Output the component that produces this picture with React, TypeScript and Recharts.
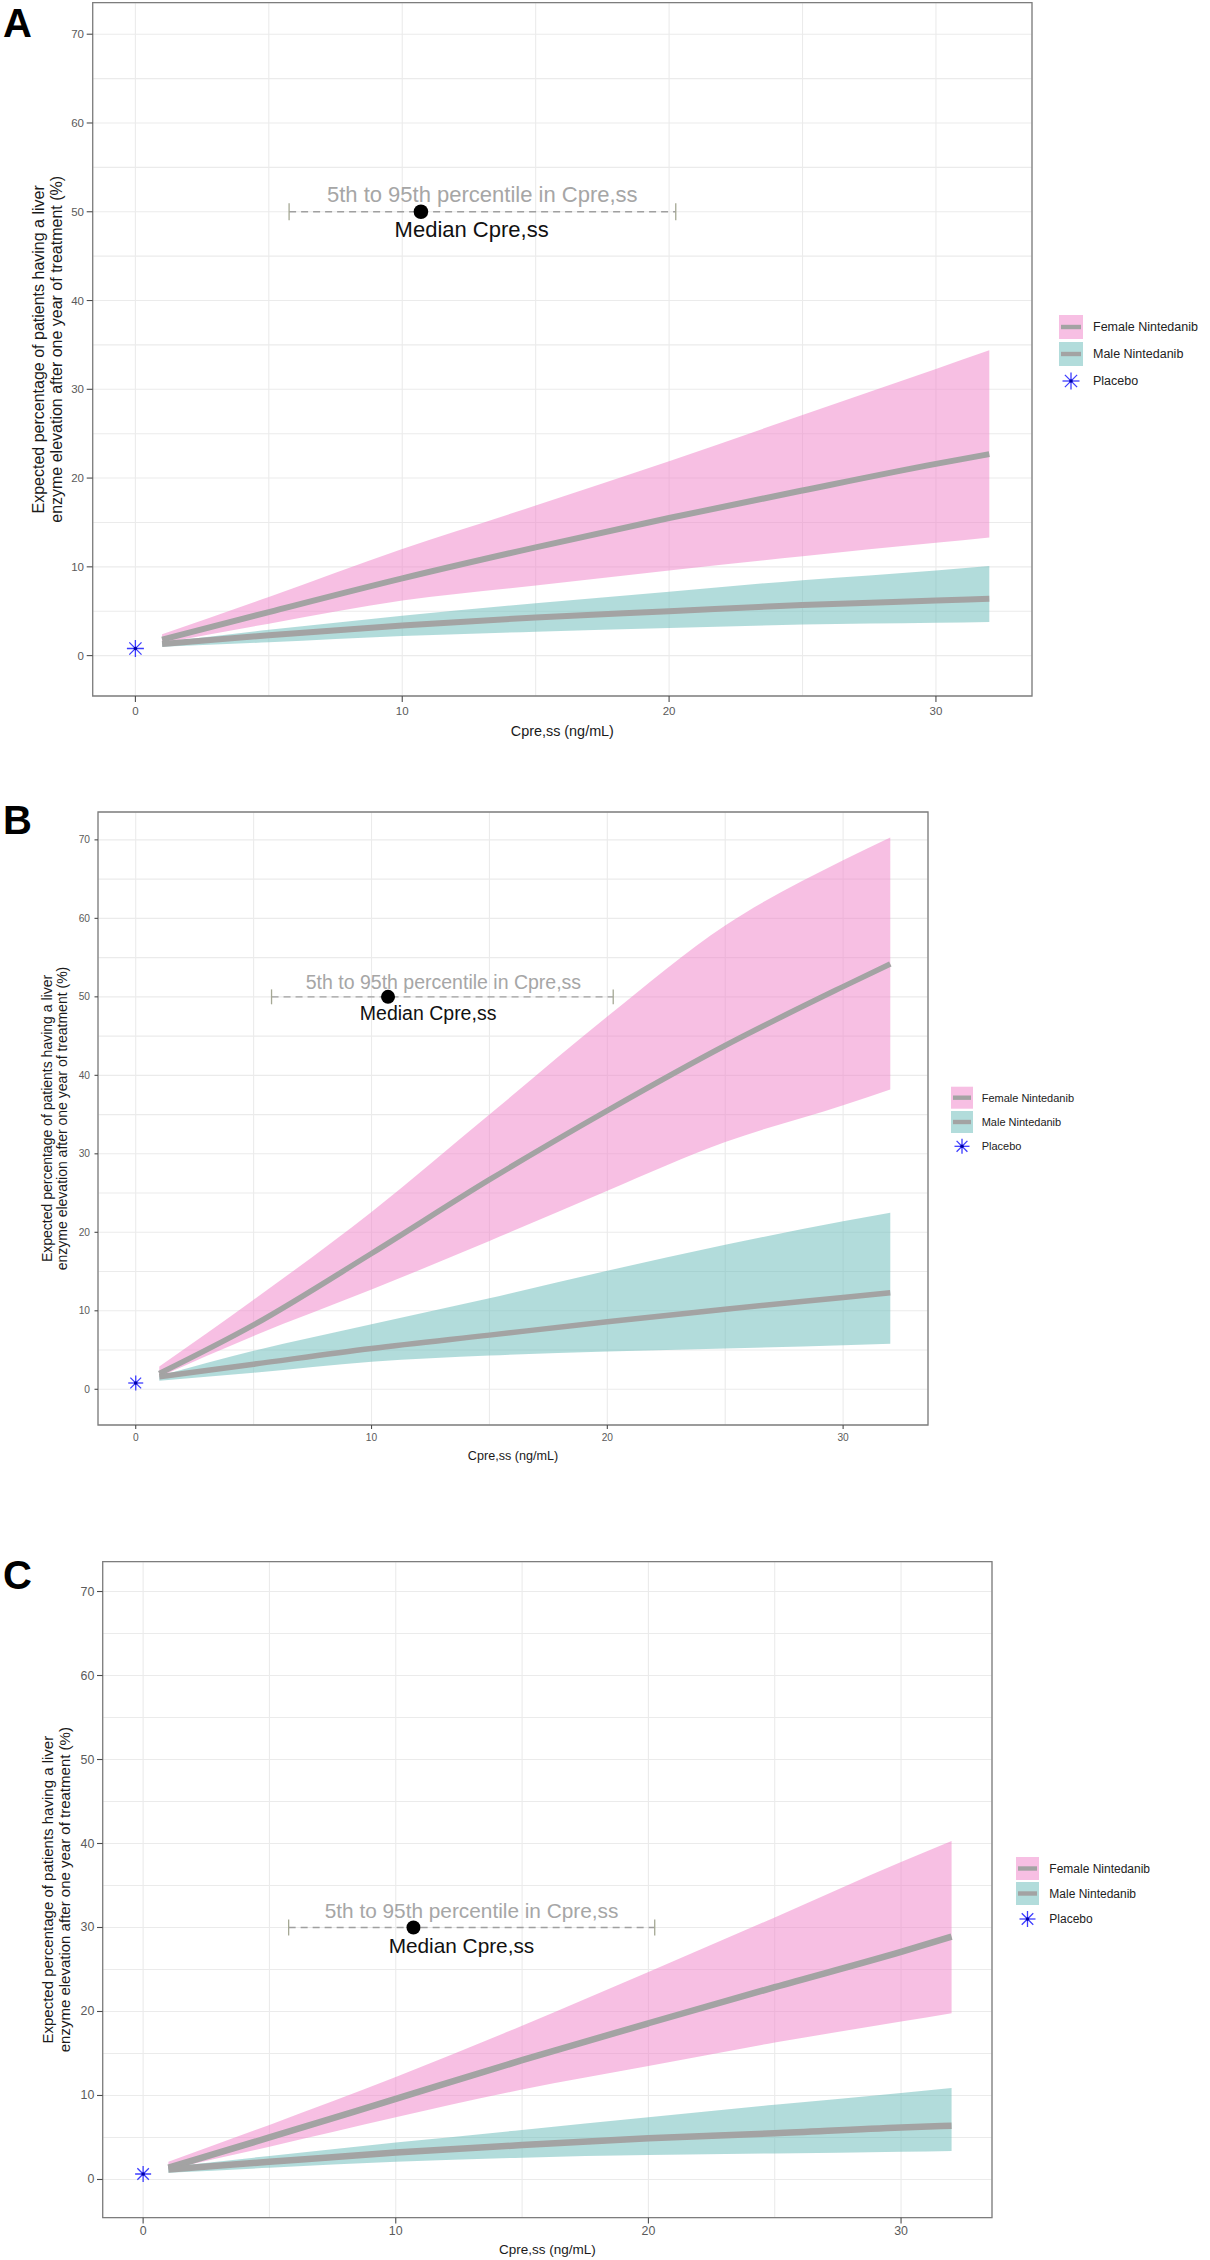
import React from 'react';
import {
  ComposedChart,
  Area,
  Line,
  Scatter,
  XAxis,
  YAxis,
  CartesianGrid,
  ReferenceLine,
  ReferenceArea,
  Label,
} from 'recharts';

// Cpre,ss values (ng/mL) at which the model curves were read
const conc = [1, 5, 10, 15, 20, 25, 30, 32];

// Panel A
const femaleLowA = [1.4, 3.6, 6.2, 7.9, 9.6, 11.2, 12.7, 13.3];
const femaleMidA = [1.8, 4.9, 8.7, 12.2, 15.5, 18.6, 21.6, 22.7];
const femaleHighA = [2.4, 6.6, 12.0, 16.9, 21.9, 27.1, 32.3, 34.4];
const maleLowA = [1.0, 1.5, 2.2, 2.7, 3.1, 3.5, 3.7, 3.8];
const maleMidA = [1.3, 2.3, 3.4, 4.3, 5.0, 5.7, 6.2, 6.4];
const maleHighA = [1.5, 2.9, 4.5, 5.9, 7.2, 8.5, 9.6, 10.1];

// Panel B
const femaleLowB = [1.6, 6.8, 12.7, 18.9, 25.3, 31.5, 36.2, 38.2];
const femaleMidB = [2.0, 8.2, 17.3, 26.7, 35.5, 43.8, 51.3, 54.2];
const femaleHighB = [2.9, 11.4, 22.6, 35.0, 47.5, 59.1, 67.4, 70.3];
const maleLowB = [1.1, 2.1, 3.5, 4.3, 4.8, 5.2, 5.6, 5.8];
const maleMidB = [1.6, 3.2, 5.2, 6.9, 8.6, 10.2, 11.7, 12.3];
const maleHighB = [1.7, 4.9, 8.3, 11.6, 15.1, 18.4, 21.4, 22.5];

// Panel C
const femaleLowC = [1.2, 3.9, 7.4, 10.7, 13.5, 16.3, 18.8, 19.8];
const femaleMidC = [1.4, 5.0, 9.6, 14.2, 18.6, 22.9, 27.1, 28.9];
const femaleHighC = [2.1, 6.5, 12.2, 18.3, 24.7, 31.2, 37.8, 40.3];
const maleLowC = [0.8, 1.4, 2.1, 2.6, 2.9, 3.1, 3.3, 3.4];
const maleMidC = [1.2, 2.1, 3.2, 4.1, 4.9, 5.5, 6.2, 6.4];
const maleHighC = [1.5, 2.8, 4.4, 5.9, 7.4, 8.9, 10.3, 10.9];

// placebo rate per panel (A, B, C), drawn at Cpre,ss = 0
const placeboRate = [0.8, 0.8, 0.65];

// exposure summary shown on every panel
const percentile5 = 5.76;
const percentile95 = 20.25;
const medianConc = 10.7;
const annotationLevel = [50, 50, 30];

const xGridTicks = [0, 5, 10, 15, 20, 25, 30];
const yGridTicks = [0, 5, 10, 15, 20, 25, 30, 35, 40, 45, 50, 55, 60, 65, 70];
const xDomain: [number, number] = [-1.6, 33.6];
const yDomain: [number, number] = [-4.55, 73.55];

const legendLabels = ['Female Nintedanib', 'Male Nintedanib', 'Placebo'];
const percentileText = '5th to 95th percentile in Cpre,ss';
const medianText = 'Median Cpre,ss';
const xTitle = 'Cpre,ss (ng/mL)';
const yTitle = [
  'Expected percentage of patients having a liver',
  'enzyme elevation after one year of treatment (%)',
];

const FONT = '"Liberation Sans", Arial, Helvetica, sans-serif';
const PINK = '#ef80c7';
const TEAL = '#65b9b7';
const PINK_KEY = '#f7bfe3';
const TEAL_KEY = '#b2dcdb';
const CURVE = '#a3a3a3';
const W = 1210;
const Y_AXIS_W = 70;
const X_AXIS_H = 30;

interface PanelLayout {
  letter: string;
  letterBaseline: number;
  top: number;
  height: number;
  plotLeft: number;
  plotTop: number;
  plotRight: number;
  plotBottom: number;
  tickFont: number;
  yTickLen: number;
  yTickGap: number;
  xTickLen: number;
  xTickGap: number;
  titleFont: number;
  yTitleX: [number, number];
  xTitleY: number;
  annoFont: number;
  grayAt: [number, number];
  medianAt: [number, number];
  dotR: number;
  starSize: number;
  lineW: number;
  keyX: number;
  keySize: number;
  rowY: number[];
  legendTextX: number;
  legendFont: number;
}

const layouts: PanelLayout[] = [
  {
    letter: 'A', letterBaseline: 37, top: 0, height: 745,
    plotLeft: 92.7, plotTop: 2.7, plotRight: 1032, plotBottom: 696,
    tickFont: 11.5, yTickLen: 6, yTickGap: 2.7, xTickLen: 6, xTickGap: 5,
    titleFont: 16, yTitleX: [39, 57], xTitleY: 731,
    annoFont: 22, grayAt: [13.0, 51.9], medianAt: [12.6, 48.0],
    dotR: 7.3, starSize: 17, lineW: 6,
    keyX: 1059, keySize: 24, rowY: [327, 354, 381], legendTextX: 1093, legendFont: 12.5,
  },
  {
    letter: 'B', letterBaseline: 834, top: 790, height: 680,
    plotLeft: 98, plotTop: 812, plotRight: 928, plotBottom: 1425,
    tickFont: 10.2, yTickLen: 3.5, yTickGap: 4.5, xTickLen: 4, xTickGap: 4.4,
    titleFont: 14, yTitleX: [47, 62], xTitleY: 1456,
    annoFont: 19.5, grayAt: [13.05, 51.9], medianAt: [12.4, 47.9],
    dotR: 7, starSize: 15, lineW: 5.5,
    keyX: 951, keySize: 22, rowY: [1097.7, 1122, 1146.3], legendTextX: 981.7, legendFont: 11,
  },
  {
    letter: 'C', letterBaseline: 1589, top: 1490, height: 770,
    plotLeft: 102.7, plotTop: 1561.7, plotRight: 992, plotBottom: 2217.7,
    tickFont: 12.4, yTickLen: 5.7, yTickGap: 2.7, xTickLen: 5.7, xTickGap: 3,
    titleFont: 15, yTitleX: [48, 65], xTitleY: 2249,
    annoFont: 20.8, grayAt: [13.0, 32.0], medianAt: [12.6, 27.9],
    dotR: 7, starSize: 16, lineW: 6.5,
    keyX: 1016, keySize: 23, rowY: [1868.5, 1893.5, 1919], legendTextX: 1049.3, legendFont: 12,
  },
];

const buildRows = (
  fLo: number[], fMid: number[], fHi: number[],
  mLo: number[], mMid: number[], mHi: number[],
) =>
  conc.map((x, i) => ({
    x,
    female: [fLo[i], fHi[i]],
    femaleMid: fMid[i],
    male: [mLo[i], mHi[i]],
    maleMid: mMid[i],
  }));

const panelRows = [
  buildRows(femaleLowA, femaleMidA, femaleHighA, maleLowA, maleMidA, maleHighA),
  buildRows(femaleLowB, femaleMidB, femaleHighB, maleLowB, maleMidB, maleHighB),
  buildRows(femaleLowC, femaleMidC, femaleHighC, maleLowC, maleMidC, maleHighC),
];

function Asterisk({ cx, cy, size }: { cx: number; cy: number; size: number }) {
  const r = size / 2;
  const d = r * 0.72;
  return (
    <g stroke="#3c3cff" strokeWidth={1.3}>
      <line x1={cx - r} y1={cy} x2={cx + r} y2={cy} />
      <line x1={cx} y1={cy - r} x2={cx} y2={cy + r} />
      <line x1={cx - d} y1={cy - d} x2={cx + d} y2={cy + d} />
      <line x1={cx - d} y1={cy + d} x2={cx + d} y2={cy - d} />
      <circle cx={cx} cy={cy} r={1.8} fill="#0000a8" stroke="none" />
    </g>
  );
}

function Panel({ L, idx }: { L: PanelLayout; idx: number }) {
  const plotTop = L.plotTop - L.top;
  const plotBottom = L.plotBottom - L.top;
  const plotMidY = (plotTop + plotBottom) / 2;
  const margin = {
    top: plotTop,
    right: W - L.plotRight,
    left: L.plotLeft - Y_AXIS_W,
    bottom: L.height - plotBottom - X_AXIS_H,
  };
  const level = annotationLevel[idx];
  const cap = 0.95;
  const texts = [
    { x: L.grayAt[0], y: L.grayAt[1], text: percentileText, color: '#a6a6a6' },
    { x: L.medianAt[0], y: L.medianAt[1], text: medianText, color: '#111111' },
  ];

  const yTick = (p: any) => {
    const v = p.payload.value;
    if (v % 10 !== 0) return <g />;
    return (
      <g>
        <line x1={L.plotLeft - L.yTickLen} x2={L.plotLeft} y1={p.y} y2={p.y} stroke="#4d4d4d" strokeWidth={1.1} />
        <text
          x={L.plotLeft - L.yTickLen - L.yTickGap}
          y={p.y}
          textAnchor="end"
          dominantBaseline="central"
          fontSize={L.tickFont}
          fill="#5a5a5a"
          fontFamily={FONT}
        >
          {v}
        </text>
      </g>
    );
  };

  const xTick = (p: any) => {
    const v = p.payload.value;
    if (v % 10 !== 0) return <g />;
    return (
      <g>
        <line x1={p.x} x2={p.x} y1={plotBottom} y2={plotBottom + L.xTickLen} stroke="#4d4d4d" strokeWidth={1.1} />
        <text
          x={p.x}
          y={plotBottom + L.xTickLen + L.xTickGap}
          dy="0.71em"
          textAnchor="middle"
          fontSize={L.tickFont}
          fill="#5a5a5a"
          fontFamily={FONT}
        >
          {v}
        </text>
      </g>
    );
  };

  return (
    <div style={{ position: 'absolute', left: 0, top: L.top }}>
      <ComposedChart width={W} height={L.height} data={panelRows[idx]} margin={margin}>
        <CartesianGrid stroke="#ebebeb" strokeWidth={1.1} />
        <XAxis
          type="number"
          dataKey="x"
          domain={xDomain}
          ticks={xGridTicks}
          interval={0}
          allowDataOverflow
          axisLine={false}
          tickLine={false}
          tickSize={L.xTickLen}
          tickMargin={L.xTickGap}
          height={X_AXIS_H}
          tick={xTick}
        >
          <Label
            content={() => (
              <text
                x={(L.plotLeft + L.plotRight) / 2}
                y={L.xTitleY - L.top}
                textAnchor="middle"
                dominantBaseline="central"
                fontSize={L.titleFont * 0.9}
                fill="#1a1a1a"
                fontFamily={FONT}
              >
                {xTitle}
              </text>
            )}
          />
        </XAxis>
        <YAxis
          type="number"
          domain={yDomain}
          ticks={yGridTicks}
          interval={0}
          allowDataOverflow
          axisLine={false}
          tickLine={false}
          tickSize={L.yTickLen}
          tickMargin={L.yTickGap}
          width={Y_AXIS_W}
          tick={yTick}
        >
          <Label
            content={() => (
              <g fontSize={L.titleFont} fill="#1a1a1a" fontFamily={FONT}>
                {yTitle.map((t, i) => (
                  <text
                    key={t}
                    x={L.yTitleX[i]}
                    y={plotMidY}
                    textAnchor="middle"
                    dominantBaseline="central"
                    transform={`rotate(-90 ${L.yTitleX[i]} ${plotMidY})`}
                  >
                    {t}
                  </text>
                ))}
              </g>
            )}
          />
        </YAxis>

        <Area
          type="monotone"
          dataKey="female"
          stroke="none"
          fill={PINK}
          fillOpacity={0.5}
          isAnimationActive={false}
        />
        <Area
          type="monotone"
          dataKey="male"
          stroke="none"
          fill={TEAL}
          fillOpacity={0.5}
          isAnimationActive={false}
        />
        <Line
          type="monotone"
          dataKey="femaleMid"
          stroke={CURVE}
          strokeWidth={L.lineW}
          dot={false}
          activeDot={false}
          isAnimationActive={false}
        />
        <Line
          type="monotone"
          dataKey="maleMid"
          stroke={CURVE}
          strokeWidth={L.lineW}
          dot={false}
          activeDot={false}
          isAnimationActive={false}
        />

        <ReferenceLine
          segment={[{ x: percentile5, y: level }, { x: percentile95, y: level }]}
          stroke="#a0a0a0"
          strokeWidth={1.3}
          strokeDasharray="7 5"
        />
        <ReferenceLine
          segment={[{ x: percentile5, y: level - cap }, { x: percentile5, y: level + cap }]}
          stroke="#a5a894"
          strokeWidth={1.3}
        />
        <ReferenceLine
          segment={[{ x: percentile95, y: level - cap }, { x: percentile95, y: level + cap }]}
          stroke="#a5a894"
          strokeWidth={1.3}
        />

        <Scatter
          data={[{ x: 0, y: placeboRate[idx] }]}
          dataKey="y"
          isAnimationActive={false}
          shape={(p: any) => <Asterisk cx={p.cx} cy={p.cy} size={L.starSize} />}
        />
        <Scatter
          data={[{ x: medianConc, y: level }]}
          dataKey="y"
          isAnimationActive={false}
          shape={(p: any) => <circle cx={p.cx} cy={p.cy} r={L.dotR} fill="#000" />}
        />
        <Scatter
          data={texts}
          dataKey="y"
          isAnimationActive={false}
          shape={(p: any) => (
            <text
              x={p.cx}
              y={p.cy}
              textAnchor="middle"
              dominantBaseline="central"
              fontSize={L.annoFont}
              fill={p.payload.color}
              fontFamily={FONT}
            >
              {p.payload.text}
            </text>
          )}
        />

        <ReferenceArea
          x1={xDomain[0]}
          x2={xDomain[1]}
          y1={yDomain[0]}
          y2={yDomain[1]}
          fill="none"
          fillOpacity={0}
          stroke="#7d7d7d"
          strokeWidth={1.3}
        />
      </ComposedChart>
    </div>
  );
}

function PanelDecor({ L }: { L: PanelLayout }) {
  const k = L.keySize;
  const keyFills = [PINK_KEY, TEAL_KEY];
  return (
    <g fontFamily={FONT}>
      <text x={3} y={L.letterBaseline} fontSize={40} fontWeight="bold" fill="#000">
        {L.letter}
      </text>
      {keyFills.map((fill, i) => (
        <g key={fill}>
          <rect x={L.keyX} y={L.rowY[i] - k / 2} width={k} height={k} fill={fill} />
          <rect x={L.keyX + 2} y={L.rowY[i] - 2.2} width={k - 4} height={4.4} fill={CURVE} />
        </g>
      ))}
      <Asterisk cx={L.keyX + k / 2} cy={L.rowY[2]} size={L.starSize} />
      {legendLabels.map((t, i) => (
        <text
          key={t}
          x={L.legendTextX}
          y={L.rowY[i]}
          dominantBaseline="central"
          fontSize={L.legendFont}
          fill="#222"
        >
          {t}
        </text>
      ))}
    </g>
  );
}

export default function App() {
  return (
    <div style={{ position: 'absolute', left: 0, top: 0, width: W, height: 2260, background: '#fff' }}>
      {layouts.map((L, i) => (
        <Panel key={L.letter} L={L} idx={i} />
      ))}
      <svg
        width={W}
        height={2260}
        style={{ position: 'absolute', left: 0, top: 0, pointerEvents: 'none' }}
      >
        {layouts.map((L) => (
          <PanelDecor key={L.letter} L={L} />
        ))}
      </svg>
    </div>
  );
}
